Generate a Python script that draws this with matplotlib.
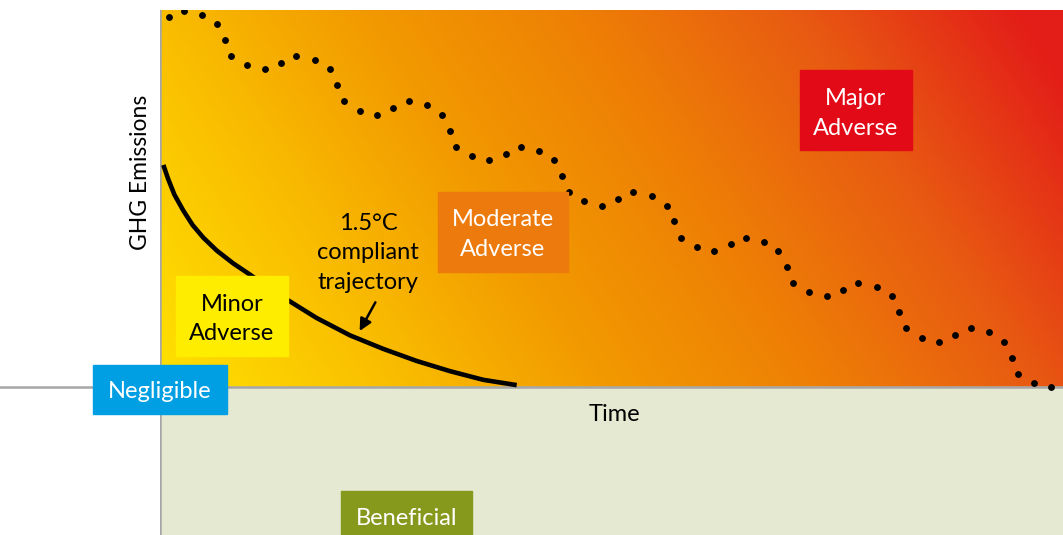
import numpy as np
import matplotlib.pyplot as plt
from matplotlib.colors import LinearSegmentedColormap
from matplotlib.patches import Rectangle

plt.rcParams['font.family'] = ['Lato', 'DejaVu Sans']

# Business-as-usual emissions path (dotted), time 0-100, emissions 0-100
bau_time = [0.96, 2.66, 4.68, 6.35, 7.20, 7.90, 9.67, 11.59, 13.40, 15.09,
            17.13, 18.79, 19.63, 20.34, 22.11, 24.03, 25.84, 27.54, 29.57, 31.23,
            32.08, 32.78, 34.55, 36.47, 38.32, 39.98, 42.00, 43.67, 44.52, 45.26,
            46.99, 48.91, 50.75, 52.41, 54.45, 56.11, 56.95, 57.66, 59.43, 61.35,
            63.20, 64.86, 66.89, 68.47, 69.40, 70.13, 71.90, 73.83, 75.64, 77.33,
            79.37, 81.03, 81.84, 82.58, 84.35, 86.27, 88.07, 89.78, 91.84, 93.47,
            94.32, 95.05, 96.82, 98.71]
bau_emissions = [98.1, 99.8, 98.8, 96.3, 92.0, 87.8, 85.3, 84.3, 86.0, 87.8,
                 86.7, 84.3, 80.0, 75.8, 73.3, 72.2, 74.0, 75.8, 74.7, 72.2,
                 68.0, 63.7, 61.3, 60.2, 61.9, 63.7, 62.6, 60.1, 55.9, 51.7,
                 49.3, 48.1, 49.9, 51.6, 50.6, 48.1, 44.0, 39.6, 37.1, 36.1,
                 37.9, 39.6, 38.5, 36.1, 31.8, 27.6, 25.1, 24.1, 25.8, 27.6,
                 26.5, 24.1, 19.8, 15.6, 13.1, 12.0, 13.8, 15.6, 14.5, 12.0,
                 7.8, 3.5, 1.1, 0.0]

# 1.5C compliant trajectory
traj_time = [0.37, 0.9, 1.6, 2.58, 3.6, 4.8, 6.28, 8.1, 9.97, 11.8, 13.65,
             17.35, 21.04, 24.73, 28.43, 32.12, 35.80, 39.50]
traj_emissions = [58.9, 55.2, 51.0, 46.8, 43.0, 39.6, 36.2, 32.8, 29.8, 26.7, 23.8,
                  18.3, 13.7, 10.1, 6.9, 4.2, 1.9, 0.5]

labels = ['Major\nAdverse', 'Moderate\nAdverse', 'Minor\nAdverse', 'Negligible', 'Beneficial']
label_colors = ['#E30A17', '#EC7A0C', '#FFED00', '#009FE3', '#87991C']
label_text_colors = ['white', 'white', 'black', 'white', 'white']
# box: (x0, x1, y0, y1)
label_boxes = [(70.87, 83.28, 62.87, 84.08),
               (30.79, 45.18, 30.5, 51.7),
               (1.77, 14.17, 8.22, 29.44),
               (-7.42, 7.42, -7.16, 5.84),
               (20.04, 34.55, -40.0, -27.6)]
label_text_y = [72.6, 40.4, 18.0, -1.1, -34.8]

fig = plt.figure(figsize=(10.63, 5.35), dpi=100)
ax = fig.add_axes([160 / 1063, 0, 903 / 1063, 525 / 535])
ymin = -39.26
ax.set_xlim(0, 100)
ax.set_ylim(ymin, 100)
ax.axis('off')

# gradient background for the adverse area
cmap = LinearSegmentedColormap.from_list(
    'heat', ['#FFE100', '#FAC000', '#F29A00', '#EE7F05', '#E85A12', '#E31E18'])
gx, gy = np.meshgrid(np.linspace(0, 1, 400), np.linspace(0, 1, 200))
grad = np.clip(0.82 * gx + 0.22 * gy, 0, 1)
ax.imshow(grad, cmap=cmap, extent=(0, 100, 0, 100), origin='lower',
          aspect='auto', vmin=0, vmax=1, zorder=0)
ax.add_patch(Rectangle((0, ymin), 100, -ymin, color='#E6E9D2', zorder=0))

# axes lines
ax.plot([0, 0], [ymin, 100], color='#A6A6A6', lw=1.8, zorder=1)
ax.plot([-17.72, 100], [0, 0], color='#A6A6A6', lw=1.8, zorder=1, clip_on=False)

ax.plot(bau_time, bau_emissions, linestyle='none', marker='o', ms=3.9,
        color='black', zorder=3)
ax.plot(traj_time, traj_emissions, color='black', lw=3.3,
        solid_capstyle='butt', solid_joinstyle='round', zorder=3)

for txt, c, tc, (x0, x1, y0, y1), ty in zip(labels, label_colors, label_text_colors,
                                            label_boxes, label_text_y):
    ax.add_patch(Rectangle((x0, y0), x1 - x0, y1 - y0, color=c, zorder=4, clip_on=False))
    ax.text((x0 + x1) / 2, ty, txt, ha='center', va='center', color=tc,
            fontsize=17, linespacing=1.5, zorder=5, clip_on=False)

ax.text(23.03, 35.6, '1.5°C\ncompliant\ntrajectory', ha='center', va='center',
        fontsize=17, linespacing=1.5, zorder=5)
ax.annotate('', xy=(21.96, 14.2), xytext=(24.0, 23.1),
            arrowprops=dict(arrowstyle='-|>', color='black', lw=1.8,
                            mutation_scale=18), zorder=5)

ax.text(50.28, -7.4, 'Time', ha='center', va='center', fontsize=17)
ax.text(-2.21, 57.0, 'GHG Emissions', ha='center', va='center', rotation=90,
        fontsize=16.5, clip_on=False)

fig.savefig('out.png', dpi=100)
